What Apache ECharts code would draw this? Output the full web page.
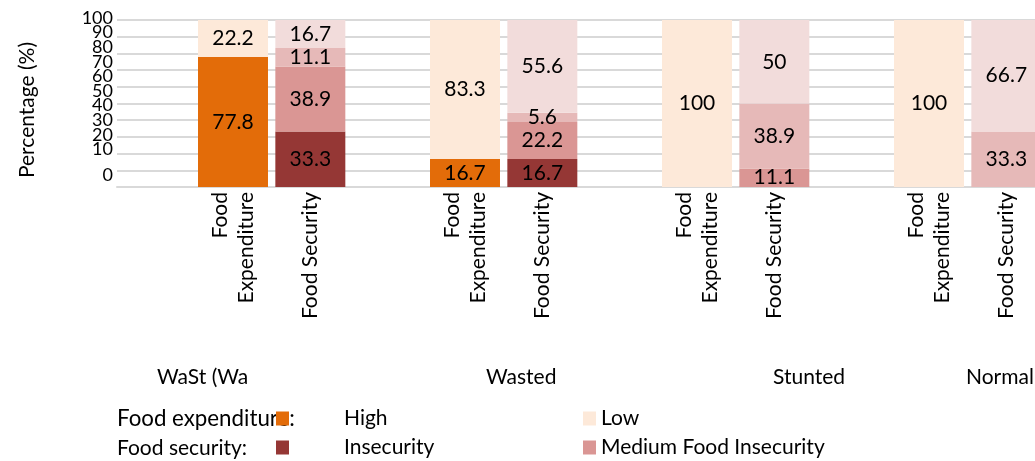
<!DOCTYPE html>
<html>
<head>
<meta charset="utf-8">
<script src="https://cdn.jsdelivr.net/npm/echarts@6/dist/echarts.min.js"></script>
<style>
html,body{margin:0;padding:0;background:#fff;}
#c{width:1035px;height:461px;}
</style>
</head>
<body>
<div id="c"></div>
<script>
// ---- data ----
var groups = ['WaSt (Wa', 'Wasted', 'Stunted', 'Normal'];
var barLabels = ['Food\nExpenditure', 'Food Security'];
var yTicks = [0, 10, 20, 30, 40, 50, 60, 70, 80, 90, 100];
var feHigh = [77.8, 16.7, 0, 0];
var feLow = [22.2, 83.3, 100, 100];
var fsInsecurity = [33.3, 16.7, 0, 0];
var fsMedium = [38.9, 22.2, 11.1, 0];
var fsMild = [11.1, 5.6, 38.9, 33.3];
var fsSecure = [16.7, 55.6, 50, 66.7];

// ---- layout / style ----
var FONT = 'Lato';
var groupLabelX = [157, 486, 773, 966];

var slots = [];
groups.forEach(function () { slots.push('', barLabels[0], barLabels[1]); });

function place(vals, offset) {
  var arr = slots.map(function () { return null; });
  vals.forEach(function (v, i) { arr[i * 3 + offset] = v; });
  return arr;
}

function mk(name, vals, offset, color) {
  return {
    name: name, type: 'bar', stack: 'all', xAxisIndex: 0, yAxisIndex: 0,
    data: place(vals, offset), barWidth: '90.5%',
    itemStyle: { color: color },
    label: {
      show: true, position: 'inside', color: '#000', fontFamily: FONT, fontSize: 21,
      formatter: function (p) { return p.value ? String(p.value) : ''; }
    }
  };
}

var series = [
  mk('High', feHigh, 1, '#E36C09'),
  mk('Low', feLow, 1, '#FDE9D9'),
  mk('Insecurity', fsInsecurity, 2, '#953735'),
  mk('Medium Food Insecurity', fsMedium, 2, '#DA9694'),
  mk('Mild Food Insecurity', fsMild, 2, '#E6B9B8'),
  mk('Food Secure', fsSecure, 2, '#F2DCDB')
];

function leg(name, left, top, pad) {
  return {
    data: [name], left: left, top: top, orient: 'horizontal',
    icon: 'rect', itemWidth: 13, itemHeight: 14, itemGap: 0, padding: 0,
    selectedMode: false,
    textStyle: { fontFamily: FONT, fontSize: 21, color: '#000', padding: [0, 0, 0, pad] }
  };
}

var graphics = [
  { type: 'text', x: 27, y: 110, rotation: Math.PI / 2,
    style: { text: 'Percentage (%)', font: '21px ' + FONT, fill: '#000', align: 'center', verticalAlign: 'middle' } },
  { type: 'text', x: 117, y: 419,
    style: { text: 'Food expenditure:', font: '22.3px ' + FONT, fill: '#000', align: 'left', verticalAlign: 'middle' } },
  { type: 'text', x: 117, y: 448,
    style: { text: 'Food security:', font: '21px ' + FONT, fill: '#000', align: 'left', verticalAlign: 'middle' } }
];
groups.forEach(function (g, i) {
  graphics.push({ type: 'text', x: groupLabelX[i], y: 377,
    style: { text: g, font: '21px ' + FONT, fill: '#000', align: 'left', verticalAlign: 'middle' } });
});

var tickLabelStyle = { margin: 4, fontFamily: FONT, fontSize: 18, color: '#000', lineHeight: 12 };
var yFirst = yTicks[0], ySecond = yTicks[1], yLast = yTicks[yTicks.length - 1];

var chart = echarts.init(document.getElementById('c'));
chart.setOption({
  animation: false,
  backgroundColor: '#fff',
  grid: [
    { left: 117, top: 20, height: 167, width: 928, outerBoundsMode: 'none', containLabel: false },
    { left: 117, top: 3.4, height: 175.2, width: 10, outerBoundsMode: 'none', containLabel: false },
    { left: 117, top: 155, height: 20, width: 10, outerBoundsMode: 'none', containLabel: false }
  ],
  xAxis: [
    { type: 'category', gridIndex: 0, data: slots,
      axisLine: { lineStyle: { color: '#d9d9d9', width: 2 } },
      axisTick: { show: false },
      axisLabel: { interval: 0, rotate: 90, margin: 5, fontFamily: FONT, fontSize: 21, lineHeight: 26, color: '#000' } },
    { type: 'value', gridIndex: 1, show: false },
    { type: 'value', gridIndex: 2, show: false }
  ],
  yAxis: [
    { type: 'value', gridIndex: 0, min: 0, max: 100, interval: 10,
      axisLine: { show: false }, axisTick: { show: false }, axisLabel: { show: false },
      splitLine: { lineStyle: { color: '#d9d9d9', width: 2 } } },
    { type: 'value', gridIndex: 1, min: yFirst - 10, max: yLast + 10, interval: 10,
      axisLine: { show: false }, axisTick: { show: false }, splitLine: { show: false },
      axisLabel: Object.assign({}, tickLabelStyle, {
        formatter: function (v) { return (v > yFirst && v <= yLast) ? String(v) : ''; } }) },
    { type: 'value', gridIndex: 2, min: yFirst, max: ySecond, interval: 10,
      axisLine: { show: false }, axisTick: { show: false }, splitLine: { show: false },
      axisLabel: Object.assign({}, tickLabelStyle, {
        formatter: function (v) { return v === yFirst ? String(v) : ''; } }) }
  ],
  legend: [
    leg('High', 276, 408, 50),
    leg('Low', 583, 408, 0),
    leg('Insecurity', 276, 437, 50),
    leg('Medium Food Insecurity', 583, 437, 0)
  ],
  graphic: graphics,
  series: series
});
</script>
</body>
</html>
